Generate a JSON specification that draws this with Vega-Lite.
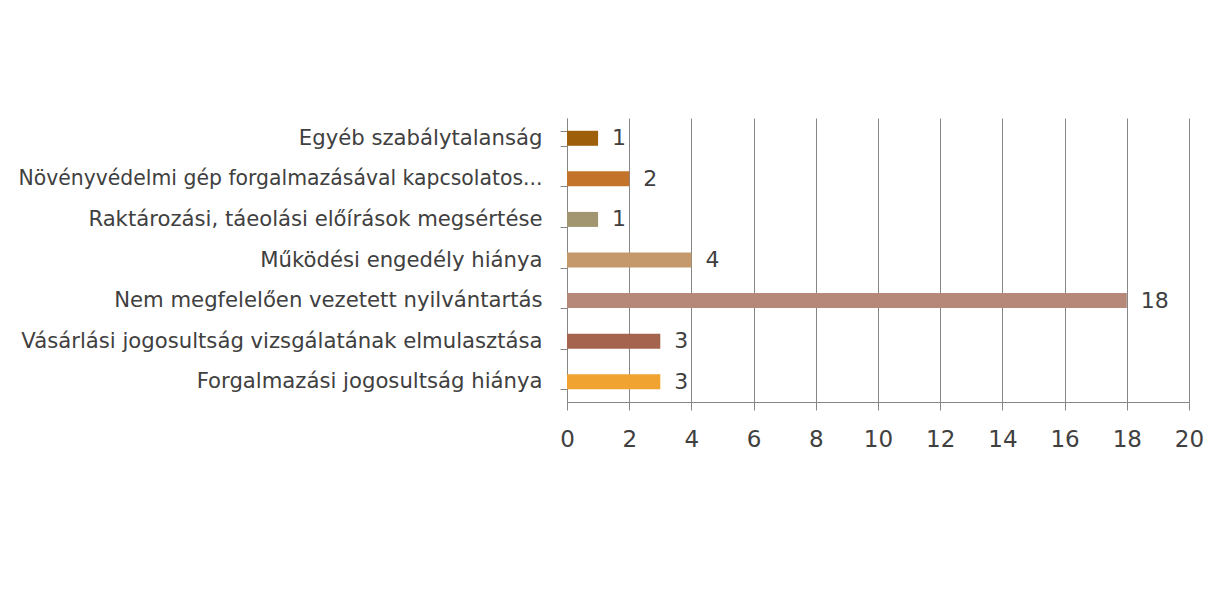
{
  "$schema": "https://vega.github.io/schema/vega-lite/v6.json",
  "width": 622,
  "height": 284,
  "autosize": {"type": "none"},
  "padding": {"left": 567, "top": 118, "right": 21, "bottom": 211},
  "background": "#ffffff",
  "config": {
    "view": {"stroke": null},
    "font": "DejaVu Sans"
  },
  "data": {
    "values": [
      {"category": "Egyéb szabálytalanság", "value": 1, "color": "#9E5F0A"},
      {"category": "Növényvédelmi gép forgalmazásával kapcsolatos...", "value": 2, "color": "#C3732A"},
      {"category": "Raktározási, táeolási előírások megsértése", "value": 1, "color": "#A29671"},
      {"category": "Működési engedély hiánya", "value": 4, "color": "#C49A6C"},
      {"category": "Nem megfelelően vezetett nyilvántartás", "value": 18, "color": "#B5887A"},
      {"category": "Vásárlási jogosultság vizsgálatának elmulasztása", "value": 3, "color": "#A5644E"},
      {"category": "Forgalmazási jogosultság hiánya", "value": 3, "color": "#F0A330"}
    ]
  },
  "encoding": {
    "y": {
      "field": "category",
      "type": "nominal",
      "sort": null,
      "scale": {"paddingInner": 0.63, "paddingOuter": 0.315},
      "axis": {
        "title": null,
        "tickBand": "extent",
        "domainColor": "#868686",
        "tickColor": "#868686",
        "tickSize": 7,
        "labelPadding": 18,
        "labelFontSize": {"expr": "indexof(datum.label, 'Növény') == 0 ? 20.4 : 21.2"},
        "labelColor": "#404040",
        "labelLimit": 600,
        "grid": false
      }
    }
  },
  "layer": [
    {
      "mark": {"type": "bar"},
      "encoding": {
        "x": {
          "field": "value",
          "type": "quantitative",
          "scale": {"domain": [0, 20], "nice": false},
          "axis": {
            "title": null,
            "values": [0, 2, 4, 6, 8, 10, 12, 14, 16, 18, 20],
            "grid": true,
            "gridColor": "#868686",
            "gridWidth": 1,
            "domainColor": "#868686",
            "tickColor": "#868686",
            "tickSize": 8,
            "labelPadding": 18,
            "labelFlush": false,
            "labelFontSize": 23,
            "labelColor": "#404040"
          }
        },
        "color": {"field": "color", "type": "nominal", "scale": null, "legend": null}
      }
    },
    {
      "mark": {"type": "text", "align": "left", "dx": 14, "fontSize": 22, "color": "#404040", "baseline": "middle"},
      "encoding": {
        "x": {"field": "value", "type": "quantitative"},
        "text": {"field": "value", "type": "quantitative"}
      }
    }
  ]
}
